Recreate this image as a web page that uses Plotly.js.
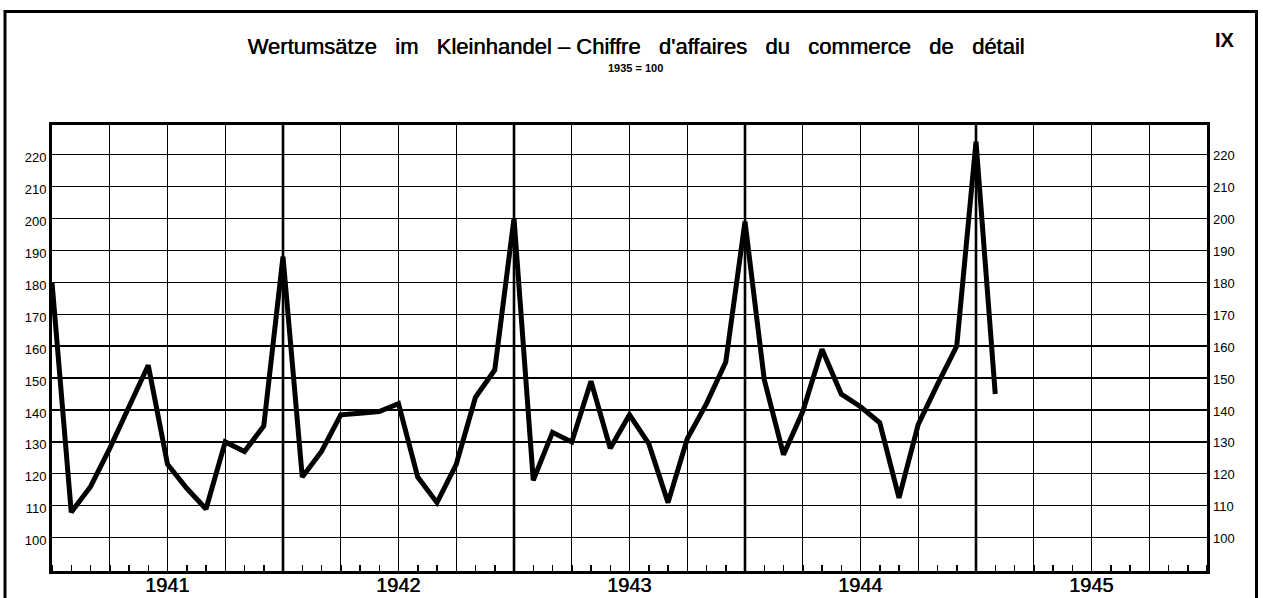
<!DOCTYPE html>
<html>
<head>
<meta charset="utf-8">
<script src="https://cdn.plot.ly/plotly-3.0.1.min.js"></script>
<style>html,body{margin:0;padding:0;background:#fff}</style>
</head>
<body>
<div id="chart" style="width:1263px;height:598px"></div>
<script>
// Monthly index values (1935 = 100), month-end positions
const months = [
  "1940-12",
  "1941-01","1941-02","1941-03","1941-04","1941-05","1941-06","1941-07","1941-08","1941-09","1941-10","1941-11","1941-12",
  "1942-01","1942-02","1942-03","1942-04","1942-05","1942-06","1942-07","1942-08","1942-09","1942-10","1942-11","1942-12",
  "1943-01","1943-02","1943-03","1943-04","1943-05","1943-06","1943-07","1943-08","1943-09","1943-10","1943-11","1943-12",
  "1944-01","1944-02","1944-03","1944-04","1944-05","1944-06","1944-07","1944-08","1944-09","1944-10","1944-11","1944-12",
  "1945-01"
];
const values = [
  180,
  108, 116, 128, 141, 154, 123, 115.5, 109, 130, 127, 135, 188,
  119, 127, 138.5, 139, 139.5, 142, 119, 111, 123, 144, 152.5, 200,
  118, 133, 130, 149, 128, 138.5, 129.5, 111, 131, 142, 155, 199,
  149.5, 126, 139.5, 159, 145, 141, 136, 112.5, 135.5, 148, 160, 224,
  145
];
const years = [1941, 1942, 1943, 1944, 1945];
const yearLabels = ["1941", "1942", "1943", "1944", "1945"];
const yTicks = [100, 110, 120, 130, 140, 150, 160, 170, 180, 190, 200, 210, 220];

const titleLeft = "Wertumsätze im Kleinhandel";
const titleRight = "Chiffre d'affaires du commerce de détail";
const subtitleText = "1935 = 100";
const plateText = "IX";

// month string -> position at end of that month (in years)
function monthEnd(s) {
  const p = s.split("-").map(Number);
  return p[0] + p[1] / 12;
}
const xs = months.map(monthEnd);

const x0 = years[0], x1 = years[years.length - 1] + 1;
const quarterVals = [];
for (let i = 0; i <= (x1 - x0) * 4; i++) quarterVals.push(x0 + i / 4);
const monthVals = [];
for (let i = 0; i <= (x1 - x0) * 12; i++) monthVals.push(x0 + i / 12);

const FONT = "Liberation Sans, Arial, Helvetica, sans-serif";
// wide word spacing as in the printed title
const widen = s => s.split(" ").join(" \u00a0\u00a0");
const wideTitle = widen(titleLeft) + "\u00a0\u2013\u00a0" + widen(titleRight);

const traces = [
  {
    x: xs, y: values, type: "scatter", mode: "lines",
    line: {color: "#000", width: 5},
    hoverinfo: "x+y", showlegend: false
  },
  {
    x: xs, y: values, type: "scatter", mode: "lines", yaxis: "y2",
    line: {color: "rgba(0,0,0,0)", width: 0},
    hoverinfo: "skip", showlegend: false
  }
];

const shapes = years.slice(1).map(y => ({
  type: "line", xref: "x", yref: "paper", x0: y, x1: y, y0: 0, y1: 1,
  line: {color: "#000", width: 2.6}, layer: "above"
}));
// outer frame
shapes.push({
  type: "rect", xref: "paper", yref: "paper",
  x0: (5 - 52) / 1155, x1: (1256.5 - 52) / 1155,
  y0: -0.2, y1: (571 - 11.5) / 446,
  line: {color: "#000", width: 3}, fillcolor: "rgba(0,0,0,0)"
});

const annotations = years.map((y, i) => ({
  text: yearLabels[i], xref: "x", yref: "paper",
  x: y + 0.5, y: (571 - 585) / 446, xanchor: "center", yanchor: "middle",
  showarrow: false,
  font: {family: FONT, size: 20, color: "#000", shadow: "0.4px 0 0 #000"}
}));
annotations.push(
  {text: subtitleText, xref: "paper", yref: "paper",
   x: (635 - 52) / 1155, y: (571 - 68) / 446, xanchor: "center", yanchor: "middle",
   showarrow: false, font: {family: FONT, size: 11, color: "#000", weight: "bold"}},
  {text: "<b>" + plateText + "</b>", xref: "paper", yref: "paper",
   x: (1225 - 52) / 1155, y: (571 - 40) / 446, xanchor: "center", yanchor: "middle",
   showarrow: false, font: {family: FONT, size: 20, color: "#000"}}
);

const yaxisCommon = {
  range: [89.6, 229.2], tickmode: "array", tickvals: yTicks,
  ticks: "", zeroline: false, fixedrange: true,
  tickfont: {family: FONT, size: 13, color: "#000"}
};

const layout = {
  width: 1263, height: 598,
  margin: {l: 52, r: 56, t: 125, b: 27, pad: 0},
  paper_bgcolor: "#fff", plot_bgcolor: "#fff",
  title: {
    text: wideTitle, xref: "container", yref: "container",
    x: 636 / 1263, xanchor: "center", y: 1 - 46 / 598, yanchor: "middle",
    font: {family: FONT, size: 22, color: "#000", shadow: "0.5px 0 0 #000"}
  },
  xaxis: {
    range: [x0, x1], tickmode: "array", tickvals: quarterVals, showticklabels: false,
    showgrid: true, gridcolor: "#000", gridwidth: 1.2,
    showline: true, linecolor: "#000", linewidth: 3, mirror: true,
    ticks: "", zeroline: false, fixedrange: true,
    minor: {tickmode: "array", tickvals: monthVals, ticks: "inside", ticklen: 6,
            tickwidth: 1.5, tickcolor: "#000", showgrid: false}
  },
  yaxis: Object.assign({}, yaxisCommon, {
    showgrid: true, gridcolor: "#000", gridwidth: 1.2,
    showline: true, linecolor: "#000", linewidth: 3, mirror: true,
    ticklabelshift: 3, ticklabelstandoff: 0
  }),
  yaxis2: Object.assign({}, yaxisCommon, {
    overlaying: "y", side: "right", showgrid: false, showline: false,
    ticklabelshift: 1, ticklabelstandoff: 5
  }),
  shapes: shapes,
  annotations: annotations,
  showlegend: false
};

Plotly.newPlot("chart", traces, layout, {displayModeBar: false, staticPlot: true});
</script>
</body>
</html>
